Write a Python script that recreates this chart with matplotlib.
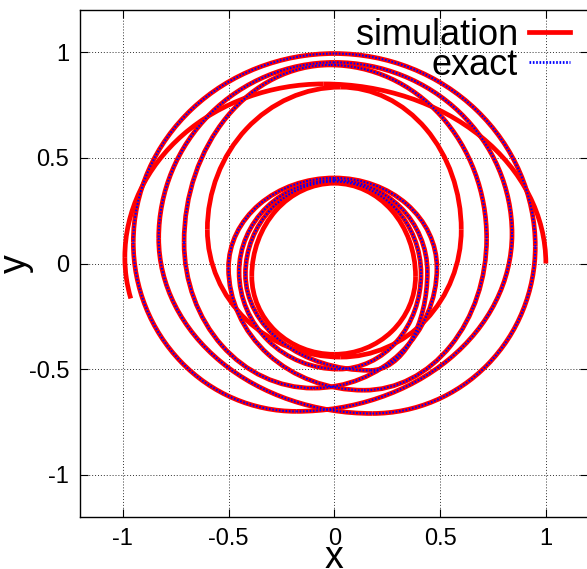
import numpy as np
import matplotlib.pyplot as plt
from matplotlib.patches import Arc
from matplotlib.lines import Line2D

plt.rcParams['font.family'] = ['Liberation Sans', 'DejaVu Sans']

# turning points of the orbit, counter-clockwise,
# alternating x-extreme (left/right) and y-extreme (top/bottom)
# exact solution (simulation lies underneath)
exact_outer_x = [0.95, 0.00, -0.95, -0.18, 0.84, 0.00, -0.83, 0.18, 0.95]
exact_outer_y = [0.08, 0.994, 0.10, -0.70, 0.14, 0.952, 0.12, -0.71, 0.08]
exact_mid_x = [0.72, -0.02, -0.71, -0.10, 0.485, 0.00, -0.50, 0.14, 0.72]
exact_mid_y = [0.12, 0.94, 0.10, -0.59, -0.02, 0.405, -0.02, -0.60, 0.12]
exact_inner_x = [0.44, 0.00, -0.45, 0.02, 0.41, 0.00, -0.42, 0.17, 0.44]
exact_inner_y = [-0.04, 0.395, -0.04, -0.50, -0.05, 0.388, -0.05, -0.506, -0.04]

# parts where only the simulation is visible
sim_big_x = [1.00, -0.05, -0.99, -0.18]
sim_big_y = [0.00, 0.85, 0.03, -0.72]
sim_big_end = (-0.98, -0.17)
sim_mid_x = [0.60, 0.03, -0.60, 0.03, 0.60]
sim_mid_y = [0.16, 0.835, 0.16, -0.443, 0.16]
sim_inner_x = [0.384, 0.00, -0.39, 0.00, 0.384]
sim_inner_y = [-0.06, 0.38, -0.06, -0.43, -0.06]


def quarter(ex, ey, ax_, ay):
    # quarter ellipse between an x-extreme (ex,ey) and a y-extreme (ax_,ay)
    a0 = 0 if ex > ax_ else 180
    a1 = 90 if ay > ey else 270
    t1, t2 = sorted((a0, a1))
    if (t1, t2) == (0, 270):
        t1, t2 = 270, 360
    return (ax_, ey), 2 * abs(ex - ax_), 2 * abs(ay - ey), t1, t2


def draw_path(ax, xs, ys, **kw):
    for i in range(len(xs) - 1):
        if i % 2 == 0:
            c, w, h, t1, t2 = quarter(xs[i], ys[i], xs[i + 1], ys[i + 1])
        else:
            c, w, h, t1, t2 = quarter(xs[i + 1], ys[i + 1], xs[i], ys[i])
        ax.add_patch(Arc(c, w, h, theta1=t1, theta2=t2, **kw))


fig = plt.figure(figsize=(5.87, 5.69), dpi=100)
ax = fig.add_axes([0.137, 0.0914, 0.865, 0.891])

red = dict(color='#ff0000', lw=3.4, zorder=3)
blue = dict(color='#0000ff', lw=1.5, linestyle=(0, (0.8, 0.8)), zorder=4)

for xs, ys in [(exact_outer_x, exact_outer_y), (exact_mid_x, exact_mid_y),
               (exact_inner_x, exact_inner_y), (sim_mid_x, sim_mid_y),
               (sim_inner_x, sim_inner_y)]:
    draw_path(ax, xs, ys, **red)
draw_path(ax, sim_big_x[:3], sim_big_y[:3], **red)
# last bit of the simulation: from the left extreme down to its end point
cx, cy = sim_big_x[3], sim_big_y[2]
t_end = np.degrees(np.arctan2(sim_big_end[1] - cy, sim_big_end[0] - cx)) % 360
ax.add_patch(Arc((cx, cy), 2 * abs(sim_big_x[2] - cx), 2 * abs(sim_big_y[3] - cy),
                 theta1=180, theta2=t_end, **red))

for xs, ys in [(exact_outer_x, exact_outer_y), (exact_mid_x, exact_mid_y),
               (exact_inner_x, exact_inner_y)]:
    draw_path(ax, xs, ys, **blue)

ax.set_xlim(-1.2, 1.2)
ax.set_ylim(-1.2, 1.2)
ax.set_xticks([-1, -0.5, 0, 0.5, 1])
ax.set_yticks([-1, -0.5, 0, 0.5, 1])
ax.set_xticklabels(['-1', '-0.5', '0', '0.5', '1'])
ax.set_yticklabels(['-1', '-0.5', '0', '0.5', '1'])
ax.tick_params(direction='in', top=True, right=True, length=6, width=0.8,
               labelsize=17, pad=8)
ax.grid(True, color='#303030', linestyle=(0, (1, 2)), linewidth=0.7)
ax.set_xlabel('x', fontsize=27, labelpad=-7)
ax.set_ylabel('y', fontsize=27, labelpad=-4)
for s in ax.spines.values():
    s.set_linewidth(1.0)

handles = [Line2D([], [], **{k: v for k, v in red.items() if k != 'zorder'}),
           Line2D([], [], color='#0000ff', lw=2.0, linestyle=(0, (0.6, 0.6)))]
ax.legend(handles, ['simulation', 'exact'], loc='upper right', frameon=False,
          markerfirst=False, fontsize=26, handlelength=1.15, handletextpad=0.3,
          labelspacing=-0.13, borderaxespad=0.0, borderpad=0.0,
          bbox_to_anchor=(0.965, 0.985))

fig.savefig('out.png', dpi=100)
